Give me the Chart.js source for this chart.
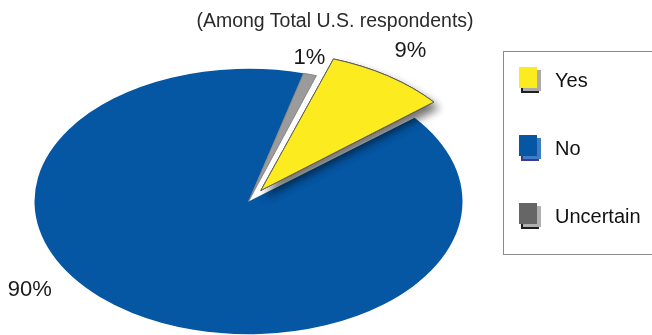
<!DOCTYPE html>
<html>
<head>
<meta charset="utf-8">
<script src="https://cdn.jsdelivr.net/npm/chart.js@4/dist/chart.umd.min.js"></script>
<style>
  html, body { margin:0; padding:0; background:#fff; }
  #wrap { position:relative; width:652px; height:335px; overflow:hidden; font-family:"Liberation Sans", Arial, sans-serif; }
  #c { position:absolute; left:0; top:0; }
  #title { position:absolute; left:0; width:670px; top:9px; text-align:center; font-size:19.5px; color:#2a2a2a; white-space:nowrap; }
  #legend { position:absolute; left:503px; top:51px; width:170px; height:204px; box-sizing:border-box; border:1px solid #8a8a8a; padding:15px 0 0 15px; }
  .item { display:flex; align-items:center; height:21px; margin-bottom:47px; }
  .sw { width:18px; height:21px; flex:none; }
  .lbl { margin-left:18px; font-size:20px; color:#111; line-height:21px; position:relative; top:3px; }
</style>
</head>
<body>
<div id="wrap">
  <canvas id="c" width="652" height="335"></canvas>
  <div id="title">(Among Total U.S. respondents)</div>
  <div id="legend"></div>
</div>
<script>
// ---- data ----
const categories = ["Yes", "No", "Uncertain"];
const percentValues = [9, 90, 1];
const percentLabels = ["9%", "90%", "1%"];
const chartTitle = "(Among Total U.S. respondents)";

// ---- styles ----
const sliceColors = ["#FCEB1F", "#0556A3", "#9B9B9B"];
const sliceBorders = ["#555555", "#0556A3", "#7a7a7a"];
const sliceBorderW = [1, 0, 1];
const sliceOffsets = [87, 0, 0];
const swatchFaces = ["#FCEB1F", "#0556A3", "#666666"];
const swatchSides = ["#aaaaaa", "#3f7cc6", "#b0b0b0"];
const swatchBottoms = ["#1e1e1e", "#3a3a9a", "#1e1e1e"];
const ELLIPSE_K = 0.62;
// label placement relative to each slice (angle shift in degrees, radial padding in px)
const labelPlace = [{dA:-1, pad:78}, {dA:24, pad:47}, {dA:-2, pad:26}];

document.getElementById('title').textContent = chartTitle;

// legend
const lg = document.getElementById('legend');
categories.forEach((c, i) => {
  const it = document.createElement('div'); it.className = 'item';
  const sw = document.createElement('div'); sw.className = 'sw';
  sw.style.background = swatchFaces[i];
  sw.style.boxShadow = `4px 3px 0 ${swatchSides[i]}, 2px 5px 0 ${swatchBottoms[i]}`;
  const t = document.createElement('div'); t.className = 'lbl'; t.textContent = c;
  it.appendChild(sw); it.appendChild(t); lg.appendChild(it);
});

const ellipsePlugin = {
  id: 'ellipse',
  beforeDatasetsDraw(chart) {
    const arc = chart.getDatasetMeta(0).data[1];
    const ctx = chart.ctx;
    ctx.save();
    ctx.translate(0, arc.y);
    ctx.scale(1, ELLIPSE_K);
    ctx.translate(0, -arc.y);
  },
  afterDatasetsDraw(chart) {
    const ctx = chart.ctx;
    const yes = chart.getDatasetMeta(0).data[0];
    // shadow under exploded slice
    ctx.save();
    ctx.shadowColor = 'rgba(0,0,0,0.55)';
    ctx.shadowBlur = 9;
    ctx.shadowOffsetX = 5;
    ctx.shadowOffsetY = 6;
    yes.draw(ctx);
    ctx.restore();
    yes.draw(ctx);
    ctx.restore();
    // percentage labels
    const arcs = chart.getDatasetMeta(0).data;
    ctx.save();
    ctx.font = '22px "Liberation Sans", Arial, sans-serif';
    ctx.fillStyle = '#1a1a1a';
    ctx.textAlign = 'center';
    ctx.textBaseline = 'middle';
    arcs.forEach((a, i) => {
      const mid = (a.startAngle + a.endAngle) / 2 + labelPlace[i].dA * Math.PI / 180;
      const R = a.outerRadius + labelPlace[i].pad;
      const px = a.x + Math.cos(mid) * R;
      const py = a.y + Math.sin(mid) * R * ELLIPSE_K;
      ctx.fillText(percentLabels[i], px, py);
    });
    ctx.restore();
  }
};

new Chart(document.getElementById('c'), {
  type: 'pie',
  data: {
    labels: categories,
    datasets: [{
      data: percentValues,
      backgroundColor: sliceColors,
      borderColor: sliceBorders,
      borderWidth: sliceBorderW,
      offset: sliceOffsets
    }]
  },
  options: {
    responsive: false,
    animation: false,
    rotation: 18.5,
    radius: 214,
    layout: { padding: { left: 0, right: 155, top: 68, bottom: 0 } },
    plugins: { legend: { display: false }, tooltip: { enabled: false }, title: { display: false } },
    events: []
  },
  plugins: [ellipsePlugin]
});
</script>
</body>
</html>
